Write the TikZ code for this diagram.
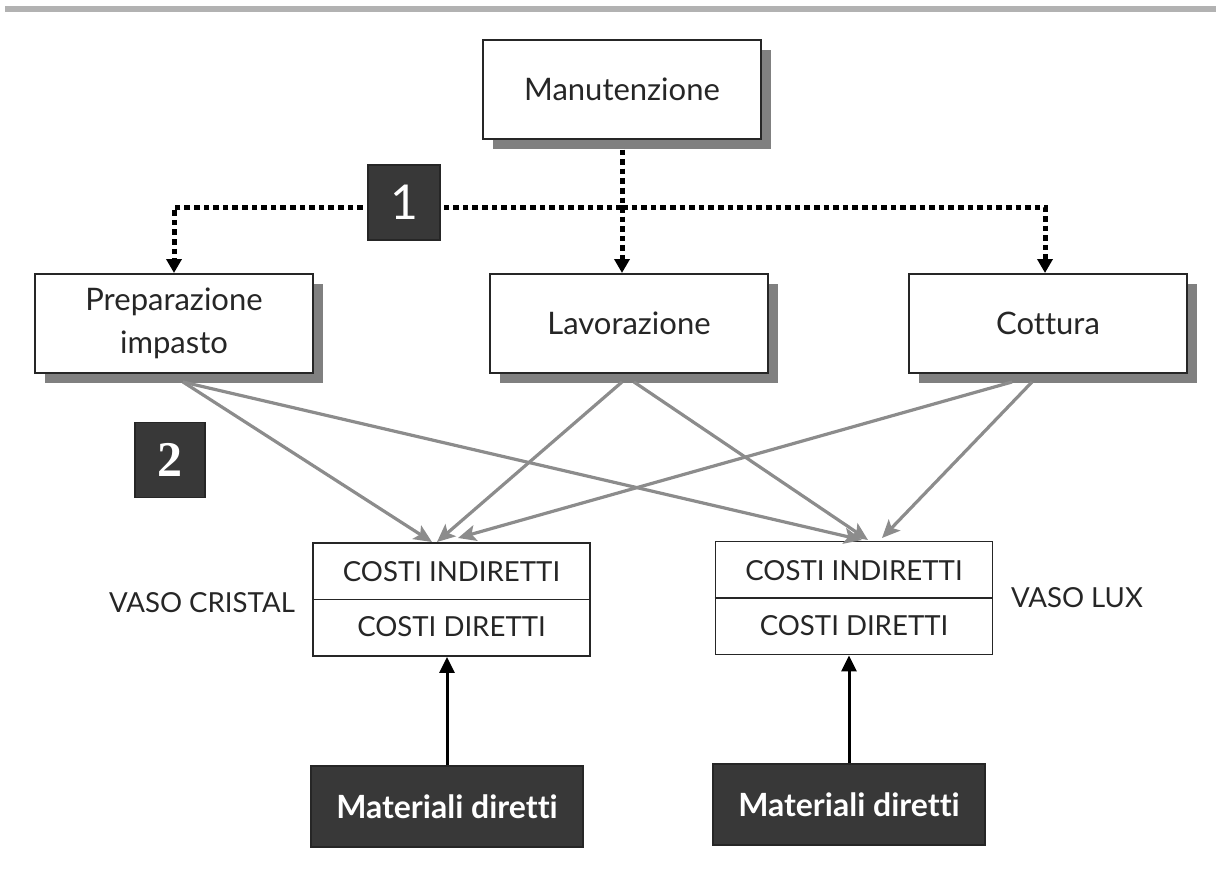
\documentclass[tikz,border=0pt]{standalone}
\usepackage{fontspec}
\setmainfont{Lato}[Ligatures=NoCommon]
\newfontfamily\numserif{Liberation Serif}
\usetikzlibrary{shadows,arrows.meta}
\begin{document}
\begin{tikzpicture}[x=0.5pt,y=-0.5pt,
  txt/.style={text=black!85},
  procbox/.style={draw=black!85, line width=1pt, fill=white, minimum width=139pt, minimum height=49.5pt,
    align=center, inner sep=0pt, font=\fontsize{15.5}{21.5}\selectfont, txt,
    drop shadow={shadow xshift=5pt, shadow yshift=-5pt, fill=black!50, opacity=1}},
  costbox/.style={draw=black!85, line width=0.9pt, fill=white, minimum width=138.5pt, minimum height=56.5pt, inner sep=0pt},
  costtxt/.style={font=\fontsize{13.8}{16}\selectfont, txt, inner sep=0pt},
  darkbox/.style={fill=black!78, draw=black!85, line width=0.6pt, text=white, inner sep=0pt},
  dotarrow/.style={line width=2.5pt, dash pattern=on 2.8pt off 2pt, -{Triangle[length=7pt,width=7.5pt]}},
  dotline/.style={line width=2.5pt, dash pattern=on 2.8pt off 2pt},
  grayarrow/.style={draw=black!45, line width=1.6pt, -{Stealth[length=9pt,width=8pt,inset=2pt]}},
  blackarrow/.style={draw=black, line width=1.5pt, -{Triangle[length=8pt,width=7.5pt]}}
]
\useasboundingbox (0,0) rectangle (1216,878);
% top rule
\draw[line width=3pt, black!30] (5,9) -- (1216,9);

% process nodes
\node[procbox] (M) at (622,89) {Manutenzione};
\node[procbox] (P) at (174,323.5) {Preparazione\\impasto};
\node[procbox] (L) at (629,323.5) {Lavorazione};
\node[procbox] (C) at (1048,323.5) {Cottura};

% cost objects
\node[costbox] (CL) at (451.5,599.5) {};
\node[costbox] (CR) at (854,598) {};
\draw[line width=0.9pt, black!85] (CL.west) -- (CL.east);
\draw[line width=0.9pt, black!85] (CR.west) -- (CR.east);
\node[costtxt] (CLi) at (451.5,572) {COSTI INDIRETTI};
\node[costtxt] (CLd) at (451.5,627) {COSTI DIRETTI};
\node[costtxt] (CRi) at (854,571) {COSTI INDIRETTI};
\node[costtxt] (CRd) at (854,626) {COSTI DIRETTI};
\node[costtxt] (VC) at (202,603) {VASO CRISTAL};
\node[costtxt] (VL) at (1077,598) {VASO LUX};

% direct materials
\node[darkbox, minimum width=136pt, minimum height=40.5pt, font=\fontsize{16}{19}\selectfont\bfseries] (ML) at (447,806.5) {Materiali diretti};
\node[darkbox, minimum width=136pt, minimum height=40.5pt, font=\fontsize{16}{19}\selectfont\bfseries] (MR) at (849,804.5) {Materiali diretti};

% dotted allocation (step 1)
\coordinate (jm) at (622,207);
\draw[dotline] ([yshift=-5pt]M.south) -- (jm);
\draw[dotarrow] (jm) -- (L.north -| jm);
\draw[dotarrow] (jm) -| (P.north);
\draw[dotarrow] (jm) -| ([xshift=-1.5pt]C.north);
\node[darkbox, minimum width=36pt, minimum height=37.5pt, font=\fontsize{24}{26}\selectfont] (N1) at (404,202.5) {1};

% gray allocation (step 2)
\coordinate (ps) at (183,382);
\coordinate (ls1) at (622,382);
\coordinate (ls2) at (634,382);
\coordinate (cs1) at (1012,382);
\coordinate (cs2) at (1032,382);
\coordinate (el1) at (432,542);
\coordinate (el2) at (437,542);
\coordinate (el3) at (458,538);
\coordinate (er1) at (862,540);
\coordinate (er2) at (868,540);
\coordinate (er3) at (882,538);
\draw[grayarrow] (ps) -- (el1);
\draw[grayarrow] (ps) -- (er1);
\draw[grayarrow] (ls1) -- (el2);
\draw[grayarrow] (ls2) -- (er2);
\draw[grayarrow] (cs1) -- (el3);
\draw[grayarrow] (cs2) -- (er3);
\node[darkbox, minimum width=35pt, minimum height=37.5pt, font=\numserif\bfseries\fontsize{25}{27}\selectfont] (N2) at (170,460) {2};

% direct cost arrows
\draw[blackarrow] (ML.north) -- (ML.north |- CL.south);
\draw[blackarrow] (MR.north) -- (MR.north |- CR.south);
\end{tikzpicture}
\end{document}
